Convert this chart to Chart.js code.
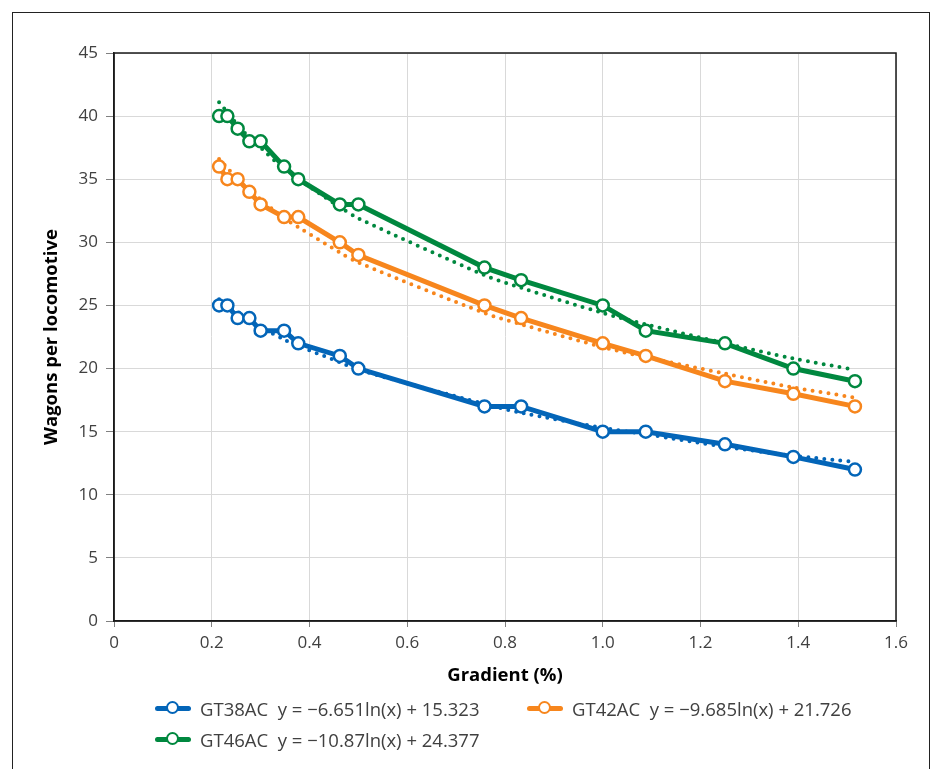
<!DOCTYPE html>
<html>
<head>
<meta charset="utf-8">
<script src="https://cdn.jsdelivr.net/npm/chart.js@4.4.1/dist/chart.umd.min.js"></script>
<style>
  html, body { margin: 0; padding: 0; background: #fff; overflow: hidden; }
  body { width: 938px; height: 769px; position: relative; font-family: "Open Sans", sans-serif; }
  #frame { position: absolute; left: 12px; top: 12px; width: 918px; height: 800px; border: 1px solid #222; box-sizing: border-box; }
  #wrap { position: absolute; left: 0; top: 0; width: 938px; height: 697px; }
  #legend { position: absolute; left: 155px; top: 695px; width: 740px; display: grid; grid-template-columns: 372px 368px; row-gap: 5px; }
  .item { display: flex; align-items: center; height: 26px; font-size: 18.5px; color: #404040; white-space: pre; }
  .mk { position: relative; width: 36px; height: 14px; margin-right: 9px; flex: none; }
  .mk .ln { position: absolute; left: 0; right: 0; top: 5px; height: 5px; border-radius: 3px; }
  .mk .dot { position: absolute; left: 11px; top: 0; width: 9px; height: 9px; border-radius: 50%; background: #fff; border-width: 2.5px; border-style: solid; }
</style>
</head>
<body>
<div id="frame"></div>
<div id="wrap"><canvas id="c"></canvas></div>
<div id="legend"></div>
<script>
// gradient (%) of each test section
const gradient = [0.215, 0.232, 0.253, 0.277, 0.3, 0.348, 0.377, 0.462, 0.5, 0.758, 0.833, 1.0, 1.088, 1.25, 1.39, 1.516];

// wagons per locomotive
const gt38 = [25, 25, 24, 24, 23, 23, 22, 21, 20, 17, 17, 15, 15, 14, 13, 12];
const gt42 = [36, 35, 35, 34, 33, 32, 32, 30, 29, 25, 24, 22, 21, 19, 18, 17];
const gt46 = [40, 40, 39, 38, 38, 36, 35, 33, 33, 28, 27, 25, 23, 22, 20, 19];

// dotted log trend lines
const gt38Trend = [25.5, 25.0, 24.5, 23.9, 23.3, 22.3, 21.8, 20.5, 19.9, 17.2, 16.5, 15.3, 14.8, 13.8, 13.1, 12.6];
const gt42Trend = [36.6, 35.9, 35.0, 34.2, 33.4, 31.9, 31.2, 29.2, 28.4, 24.4, 23.5, 21.7, 20.9, 19.6, 18.5, 17.7];
const gt46Trend = [41.1, 40.3, 39.3, 38.3, 37.5, 35.8, 35.0, 32.8, 31.9, 27.4, 26.4, 24.4, 23.5, 22.0, 20.8, 19.9];

const seriesNames = ['GT38AC', 'GT42AC', 'GT46AC'];
const equations = ['y = \u22126.651ln(x) + 15.323', 'y = \u22129.685ln(x) + 21.726', 'y = \u221210.87ln(x) + 24.377'];
const colors = ['#0365b8', '#f7861d', '#00883f'];

const pts = ys => ys.map((y, i) => ({x: gradient[i], y}));

const mainSets = [gt38, gt42, gt46].map((ys, i) => ({
  label: seriesNames[i],
  data: pts(ys),
  borderColor: colors[i],
  backgroundColor: '#fff',
  borderWidth: 5,
  pointRadius: 6,
  pointBorderWidth: 2.5,
  pointBackgroundColor: '#fff',
  pointBorderColor: colors[i],
  order: 1
}));

const trendSets = [gt38Trend, gt42Trend, gt46Trend].map((ys, i) => ({
  label: seriesNames[i] + ' trend',
  data: pts(ys),
  borderColor: colors[i],
  borderWidth: 4,
  borderDash: [0, 8],
  borderCapStyle: 'round',
  pointRadius: 0,
  tension: 0.3,
  order: 2
}));

// box around the plot area (top/right edges)
const boxPlugin = {
  id: 'box',
  afterDraw(chart) {
    const a = chart.chartArea, ctx = chart.ctx;
    ctx.save();
    ctx.strokeStyle = '#1a1a1a';
    ctx.lineWidth = 1.5;
    ctx.strokeRect(a.left, a.top, a.right - a.left, a.bottom - a.top);
    ctx.restore();
  }
};

Chart.defaults.font.family = '"Open Sans", sans-serif';

new Chart(document.getElementById('c'), {
  type: 'line',
  data: { datasets: [...trendSets, ...mainSets] },
  options: {
    responsive: true,
    maintainAspectRatio: false,
    animation: false,
    layout: { padding: { left: 35, top: 53, right: 42, bottom: 6 } },
    plugins: { legend: { display: false }, tooltip: { enabled: false } },
    scales: {
      x: {
        type: 'linear',
        min: 0, max: 1.6,
        afterFit: s => { s.height = 70; },
        ticks: { stepSize: 0.2, color: '#404040', font: { size: 17 }, padding: 6,
                 callback: v => v === 0 ? '0' : Number(v).toFixed(1) },
        grid: { color: '#d9d9d9', tickColor: '#808080', tickLength: 6 },
        border: { color: '#1a1a1a', width: 1.5 },
        title: { display: true, text: 'Gradient (%)', color: '#000', font: { size: 18.5, weight: 'bold' }, padding: { top: 4, bottom: 4 } }
      },
      y: {
        min: 0, max: 45,
        afterFit: s => { s.width = 79; },
        ticks: { stepSize: 5, color: '#404040', font: { size: 17 }, padding: 8 },
        grid: { color: '#d9d9d9', tickColor: '#808080', tickLength: 8 },
        border: { color: '#1a1a1a', width: 1.5 },
        title: { display: true, text: 'Wagons per locomotive', color: '#000', font: { size: 18.5, weight: 'bold' }, padding: { top: 6, bottom: 0 } }
      }
    }
  },
  plugins: [boxPlugin]
});

// legend below the chart
const legend = document.getElementById('legend');
seriesNames.forEach((name, i) => {
  const el = document.createElement('div');
  el.className = 'item';
  el.innerHTML = '<span class="mk"><span class="ln" style="background:' + colors[i] + '"></span>' +
    '<span class="dot" style="border-color:' + colors[i] + '"></span></span>' +
    '<span>' + name + '  ' + equations[i] + '</span>';
  legend.appendChild(el);
});
</script>
</body>
</html>
